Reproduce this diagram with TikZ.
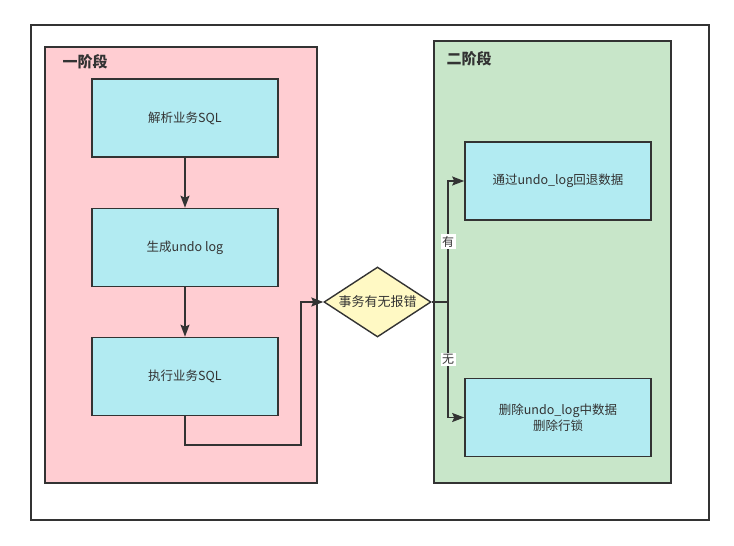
\documentclass[tikz,border=0pt]{standalone}
\usepackage{fontspec}
\setmainfont{Noto Sans CJK SC}
\usetikzlibrary{arrows.meta,shapes.geometric}
\definecolor{linegray}{HTML}{333333}
\definecolor{pinkbg}{HTML}{FFCDD2}
\definecolor{greenbg}{HTML}{C8E6C9}
\definecolor{cyanbox}{HTML}{B2EBF2}
\definecolor{yellowbox}{HTML}{FFF9C4}
\begin{document}
\begin{tikzpicture}[x=1pt,y=-1pt,
    panel/.style={draw=linegray,line width=1.6pt,minimum width=#1},
    stepbox/.style={draw=linegray,fill=cyanbox,line width=1.6pt,minimum width=186pt,minimum height=78pt,
        font=\fontsize{12.5}{16}\selectfont,align=center,text=linegray},
    decision/.style={diamond,draw=linegray,fill=yellowbox,line width=1.4pt,minimum width=107pt,
        minimum height=70pt,shape aspect=1.53,inner sep=0pt,font=\fontsize{13}{15}\selectfont,text=linegray},
    title/.style={anchor=west,font=\fontsize{15}{17}\selectfont\bfseries,text=linegray},
    arrow/.style={draw=linegray,line width=1.3pt,-{Stealth[length=12pt,width=9pt,inset=2pt]}},
    branch/.style={fill=white,inner sep=1.5pt,font=\fontsize{12}{14}\selectfont,text=linegray}]
    \useasboundingbox (0,0) rectangle (734,546);

    % Frame
    \draw[linegray,line width=1.4pt] (31,25) rectangle (709,520);

    % Stages
    \node[panel=272pt,fill=pinkbg,minimum height=436pt] (stage1) at (181,265) {};
    \node[panel=237pt,fill=greenbg,minimum height=442pt] (stage2) at (552.5,262) {};
    \node[title] (t1) at (59,62) {一阶段};
    \node[title] (t2) at (443,59) {二阶段};

    % Steps
    \node[stepbox] (parse) at (185,118) {解析业务SQL};
    \node[stepbox] (undo) at (185,247.5) {生成undo log};
    \node[stepbox] (exec) at (185,376.5) {执行业务SQL};
    \node[decision] (cond) at (377.5,302) {事务有无报错};
    \node[stepbox] (rollback) at (558,181) {通过undo\_log回退数据};
    \node[stepbox] (commit) at (558,417.5) {删除undo\_log中数据\\删除行锁};

    % Connectors
    \coordinate (turn) at (301,445);
    \coordinate (fork) at (448,302);
    \draw[arrow] (parse) -- (undo);
    \draw[arrow] (undo) -- (exec);
    \draw[arrow] (exec.south) |- (turn) |- (cond.west);
    \draw[arrow] (cond.east) -- (fork) |- (rollback.west) node[branch,pos=0.25] (yes) {有};
    \draw[arrow] (fork) |- (commit.west) node[branch,pos=0.25] (no) {无};
\end{tikzpicture}
\end{document}
